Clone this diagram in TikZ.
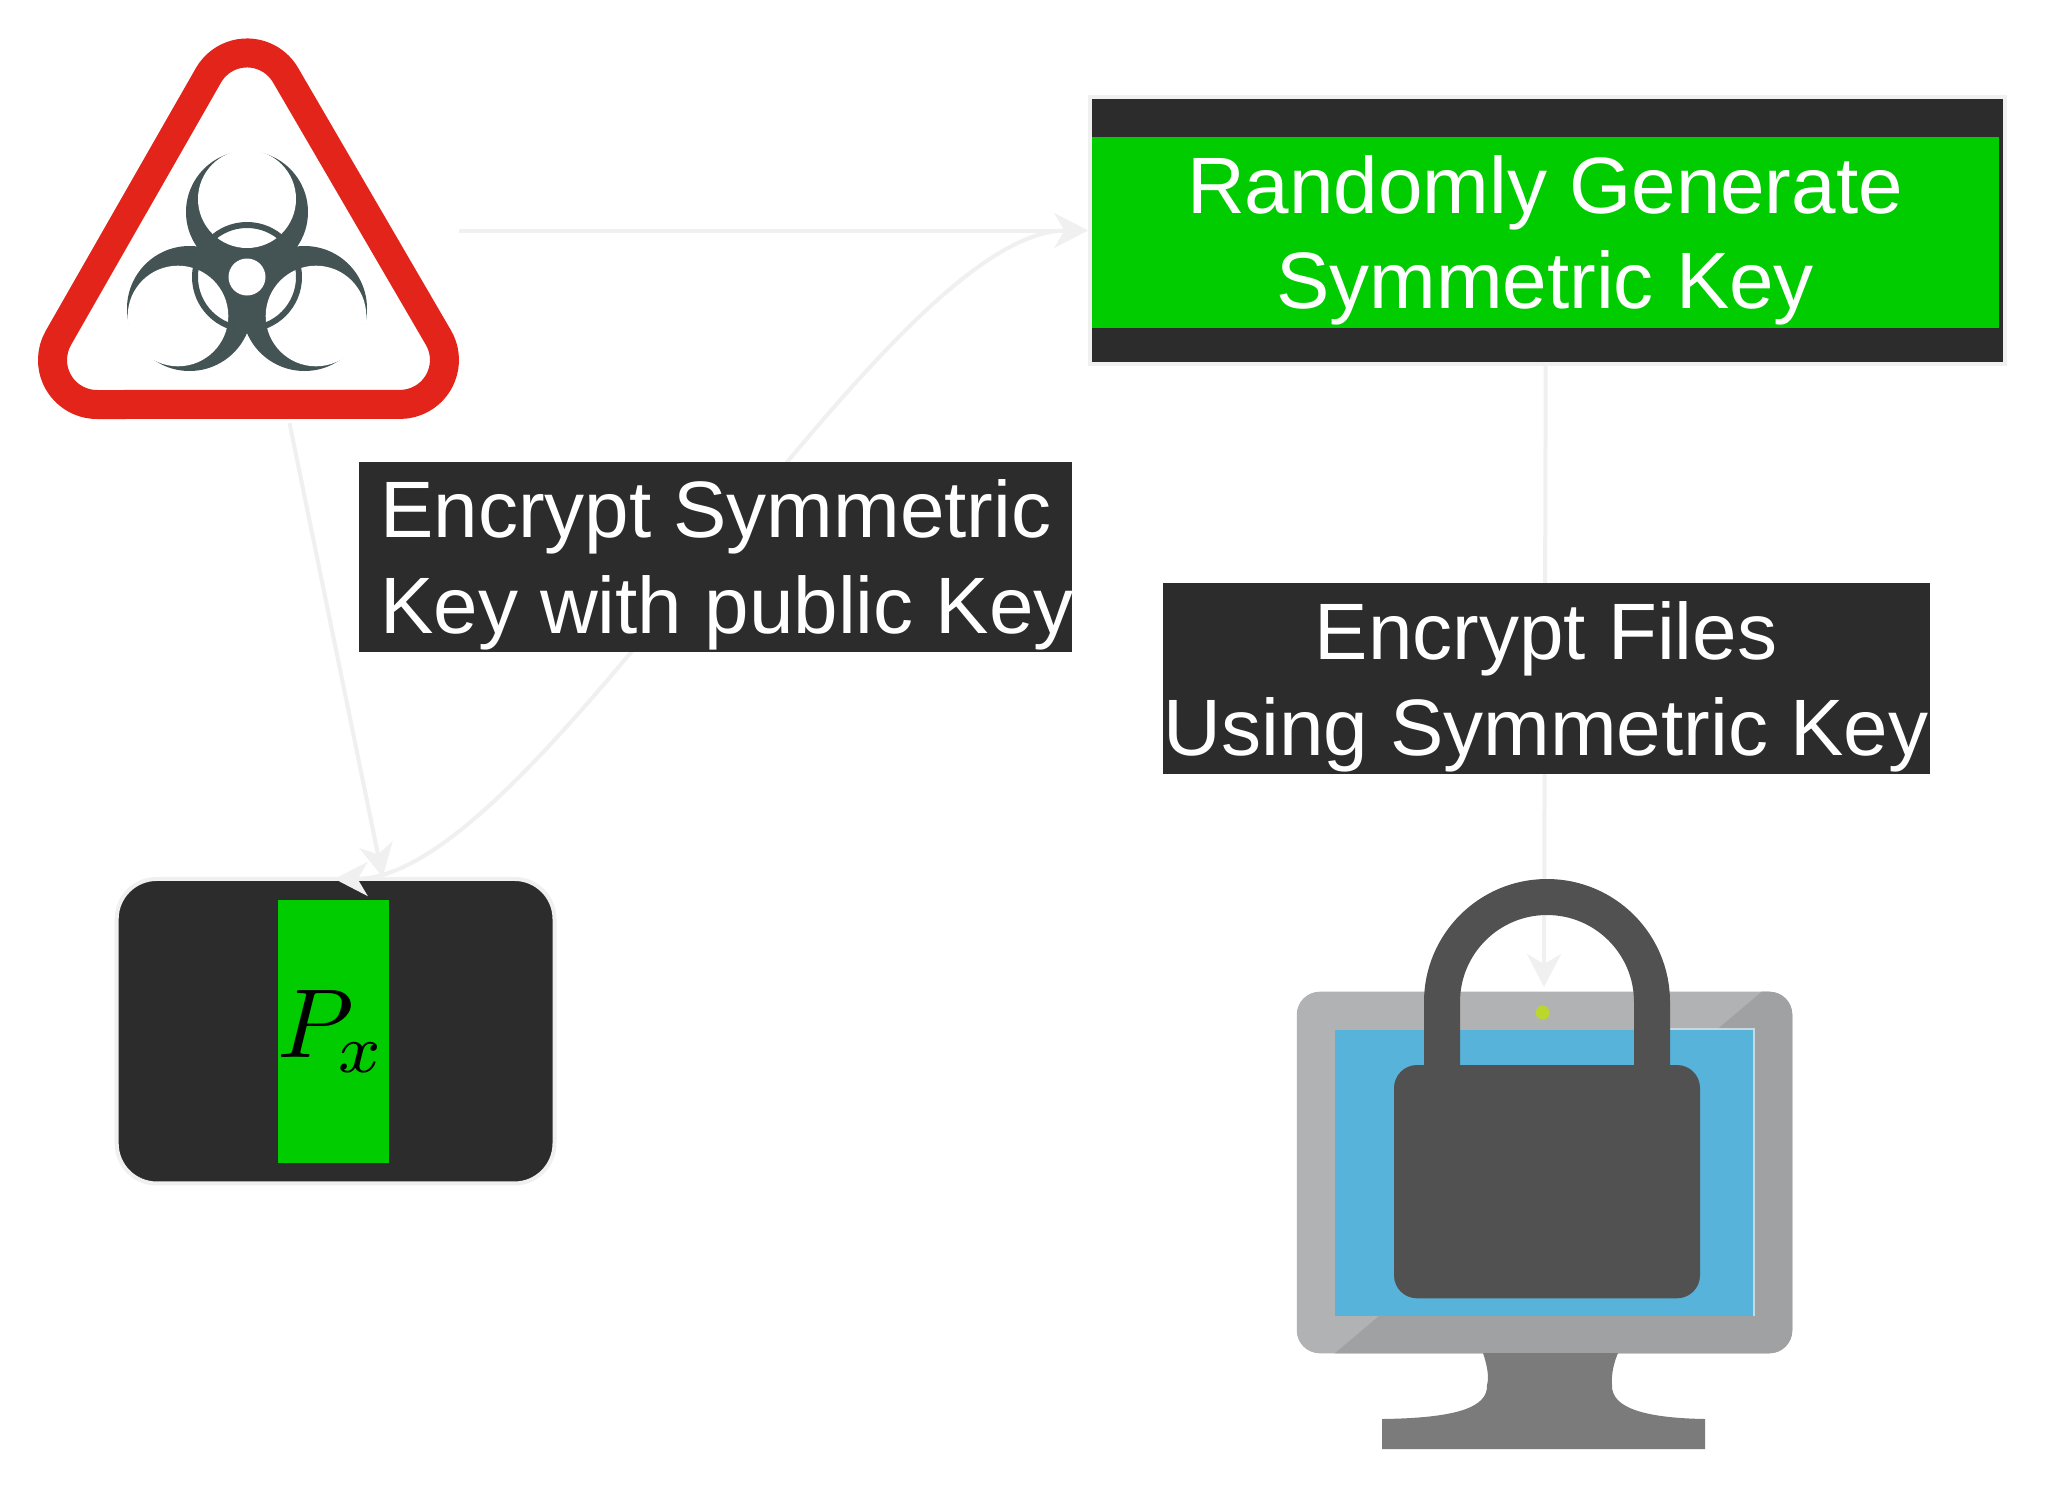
\documentclass[tikz,border=0pt]{standalone}
\usepackage{graphicx}
\usepackage{fontspec}
\setmainfont{Liberation Sans}
\usetikzlibrary{arrows.meta,calc}
\definecolor{edgegrey}{HTML}{F0F0F0}
\definecolor{panel}{HTML}{2C2C2C}
\definecolor{keygreen}{HTML}{00CC00}
\definecolor{signred}{HTML}{E3241B}
\definecolor{biogrey}{HTML}{445454}
\definecolor{lockgrey}{HTML}{515151}
\definecolor{frameA}{HTML}{B1B2B4}
\definecolor{frameB}{HTML}{A0A1A3}
\definecolor{screenblue}{HTML}{58B3DA}
\definecolor{screenedge}{HTML}{C8D8DE}
\definecolor{standgrey}{HTML}{7B7B7B}
\definecolor{dotgreen}{HTML}{BBD62C}
\newcommand{\firstln}{\rule{0pt}{74.3pt}}
\tikzset{
  bigtext/.style={font=\fontsize{80}{95.2}\selectfont, text=white, inner sep=0pt, outer sep=0pt},
  panelbox/.style={draw=edgegrey, line width=4pt, fill=panel, inner sep=0pt},
  labelbox/.style={bigtext, fill=panel},
  keybox/.style={bigtext, fill=keygreen, align=center},
  flow/.style={draw=edgegrey, line width=4pt, -{Stealth[length=33pt,width=34pt,inset=10pt]}},
  flowboth/.style={draw=edgegrey, line width=4pt, {Stealth[length=33pt,width=34pt,inset=10pt]}-{Stealth[length=33pt,width=34pt,inset=10pt]}},
  bioink/.style={fill=biogrey, draw=none},
  paper/.style={fill=white, draw=none},
}
\begin{document}
\begin{tikzpicture}[x=1pt,y=-1pt]
\useasboundingbox (0,0) rectangle (2048,1491);
\fill[white] (0,0) rectangle (2048,1491);

% anchor node of the warning sign
\node[minimum width=421pt, minimum height=385pt, inner sep=0pt, outer sep=0pt] (warn) at (248.5,230.5) {};

% warning sign
\draw[signred, line width=29pt, line join=round]
  (208.4,75.4) arc[start angle=209.7, end angle=330.3, radius=44.5]
  -- (438.6,337.9) arc[start angle=330.3, end angle=450, radius=44.5]
  -- (97,404.5) arc[start angle=90, end angle=209.7, radius=44.5] -- cycle;
\fill[bioink] (247,212) circle[radius=61];
\fill[bioink] (189.5,308.5) circle[radius=62.5];
\fill[bioink] (304.5,308.5) circle[radius=62.5];
\fill[paper] (247,199) circle[radius=49];
\fill[paper] (178,316) circle[radius=50.3];
\fill[paper] (316,316) circle[radius=50.3];
\fill[bioink, even odd rule] (247,277) circle[radius=55] (247,277) circle[radius=49];
\fill[paper] (247,277) circle[radius=18.5];

% boxes under the connectors
\node[panelbox, rounded corners=40pt, minimum width=437.8pt, minimum height=304.5pt] (px) at (335.6,1031.2) {};
\node[panelbox, minimum width=915.1pt, minimum height=267pt] (gen) at (1547.2,230.5) {};
\node[keybox, minimum width=907pt, minimum height=190.4pt] (genkey) at (1545,232.5)
  {\firstln Randomly Generate\\Symmetric Key};
\node[fill=keygreen, minimum width=110.7pt, minimum height=262.7pt, inner sep=0pt, outer sep=0pt,
  text=black] (pxkey) at (333.6,1031.4) {\makebox[0pt]{\hspace*{-3pt}\scalebox{9.8}{$P_{\kern-.3pt x}$}}};
\node[fill=frameA, rounded corners=23pt, minimum width=495.5pt, minimum height=361.6pt, inner sep=0pt, outer sep=0pt] (mon) at (1544.5,1172.5) {};

% connectors
\draw[flow] (warn) -- (gen);
\draw[flow] ($(warn.south)+(41,0)$) -- ($(px.north)+(47,0)$);
\draw[flowboth] ($(px.north)+(-1,2)$) .. controls +(204,0) and +(-204,0) .. (gen.west);
\draw[flow] ($(gen.south)+(-1.5,0)$) -- ($(mon.north)+(-0.5,-4.7)$);

% edge labels
\node[labelbox, align=left, minimum width=713pt, minimum height=190pt] (lab1) at (715,556.7)
  {\firstln\hspace*{21.5pt}Encrypt Symmetric\\\hspace*{21.5pt}Key with public Key\hspace*{-2.5pt}};
\node[labelbox, align=center, minimum width=767pt, minimum height=190.6pt] (lab2) at (1546,678.7)
  {\firstln Encrypt Files\\Using Symmetric Key};

% monitor
\begin{scope}
  \clip[rounded corners=23pt] (1296.8,991.7) rectangle (1792.3,1353.3);
  \fill[frameB] (1761.7,991.7) -- (1800,991.7) -- (1800,1360) -- (1327,1360) -- cycle;
\end{scope}
\fill[standgrey] (1483,1353) .. controls (1488,1368) and (1489,1378) .. (1487,1385)
  .. controls (1488,1408) and (1455,1418) .. (1382,1419) -- (1382,1449) -- (1705,1449) -- (1705,1419)
  .. controls (1645,1418) and (1611,1408) .. (1612,1385)
  .. controls (1611,1375) and (1614,1362) .. (1618,1353) -- cycle;
\fill[screenedge] (1670,1028) rectangle (1755,1031);
\fill[screenedge] (1752,1028) rectangle (1755,1316);
\fill[screenblue] (1335,1030) rectangle (1753,1315.7);
\fill[dotgreen] (1542.7,1012.7) circle[radius=7];

% padlock
\draw[lockgrey, line width=36pt] (1442,1075) -- (1442,1002) arc[start angle=180, end angle=360, radius=105] -- (1652,1075);
\fill[lockgrey, rounded corners=23pt] (1394,1065) rectangle (1700,1298.3);
\end{tikzpicture}
\end{document}
